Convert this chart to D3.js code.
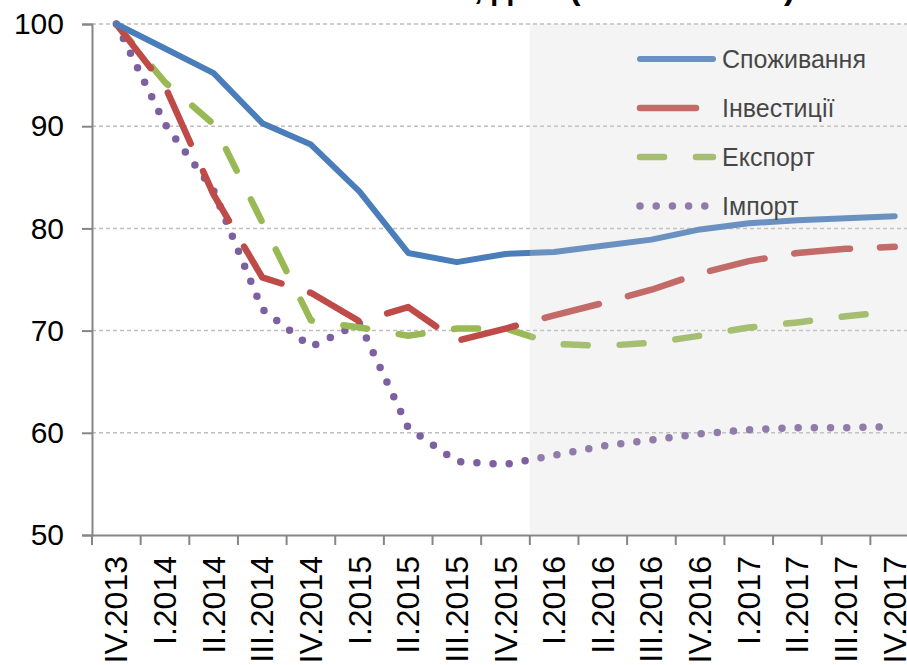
<!DOCTYPE html>
<html>
<head>
<meta charset="utf-8">
<script src="https://cdn.jsdelivr.net/npm/d3@7/dist/d3.min.js"></script>
<style>
  html, body { margin: 0; padding: 0; background: #fff; }
  svg { display: block; }
  text { font-family: "Liberation Sans", Arial, sans-serif; }
</style>
</head>
<body>
<svg id="chart" width="907" height="665"></svg>
<script>
const categories = ["IV.2013","I.2014","II.2014","III.2014","IV.2014","I.2015","II.2015","III.2015","IV.2015",
                    "I.2016","II.2016","III.2016","IV.2016","I.2017","II.2017","III.2017","IV.2017"];
const consumption = [100, 97.6, 95.2, 90.3, 88.2, 83.6, 77.6, 76.7, 77.5, 77.7, 78.3, 78.9, 79.9, 80.5, 80.8, 81.0, 81.2];
const investment  = [100, 93.9, 83.3, 75.2, 73.7, 70.9, 72.3, 69.0, 70.2, 71.5, 72.7, 74.0, 75.6, 76.8, 77.6, 78.0, 78.2];
const exportsData = [100, 94.3, 90.2, 80.6, 71.0, 70.3, 69.5, 70.2, 70.2, 68.7, 68.5, 68.8, 69.5, 70.3, 70.8, 71.4, 71.9];
const importsData = [100, 90.2, 83.7, 72.1, 68.4, 70.7, 60.5, 57.2, 56.9, 57.8, 58.7, 59.3, 59.9, 60.3, 60.5, 60.5, 60.6];
const seriesNames = ["Споживання", "Інвестиції", "Експорт", "Імпорт"];
const yTicks = [50, 60, 70, 80, 90, 100];
const forecastStart = "I.2016";
const titleText = "Компоненти ВВП, дані (IV.2013 = 100)";

(function () {
const svg = d3.select("#chart");
const pLeft = 92, pRight = 919, pTop = 24, pBottom = 535;

const x = d3.scaleBand().domain(categories).range([pLeft, pRight]).paddingInner(0).paddingOuter(0);
const y = d3.scaleLinear().domain([50, 100]).range([pBottom, pTop]);

// title (mostly cut off at top, as in the source image)
svg.append("text")
  .attr("x", 795).attr("y", -1)
  .attr("text-anchor", "end")
  .attr("font-size", 33).attr("font-weight", "bold")
  .attr("fill", "#000")
  .text(titleText);

// gridlines
svg.append("g").selectAll("line").data(yTicks.filter(d => d > 50)).join("line")
  .attr("x1", pLeft).attr("x2", 907)
  .attr("y1", d => y(d)).attr("y2", d => y(d))
  .attr("stroke", "#bfbfbf").attr("stroke-width", 1.5)
  .attr("stroke-dasharray", "4,3");

const styles = [
  { data: consumption, color: "#4a7ebb", dash: null, width: 6 },
  { data: investment,  color: "#be4b48", dash: "56,30", width: 6.5 },
  { data: exportsData, color: "#98b954", dash: "24,32", width: 6.5 },
  { data: importsData, color: "#7d60a0", dash: "0,16.2", width: 7.5 }
];

const line = d3.line()
  .x((d, i) => x(categories[i]) + x.bandwidth() / 2)
  .y(d => y(d));

const gLines = svg.append("g");
styles.slice().reverse().forEach(s => {
  gLines.append("path")
    .datum(s.data)
    .attr("d", line)
    .attr("fill", "none")
    .attr("stroke", s.color)
    .attr("stroke-width", s.width)
    .attr("stroke-linecap", "round")
    .attr("stroke-linejoin", "round")
    .attr("stroke-dasharray", s.dash);
});

// legend
const legendX1 = 640, legendX2 = 713, legendY0 = 59, legendStep = 49;
const gLeg = svg.append("g");
styles.forEach((s, i) => {
  const yy = legendY0 + i * legendStep;
  gLeg.append("line")
    .attr("x1", legendX1).attr("x2", legendX2)
    .attr("y1", yy).attr("y2", yy)
    .attr("stroke", s.color).attr("stroke-width", s.width)
    .attr("stroke-linecap", "round")
    .attr("stroke-dasharray", s.dash);
  gLeg.append("text")
    .attr("x", 722).attr("y", yy + 9)
    .attr("font-size", 25).attr("fill", "#1a1a1a")
    .text(seriesNames[i]);
});

// forecast shading overlay
svg.append("rect")
  .attr("x", x(forecastStart)).attr("y", pTop)
  .attr("width", 907 - x(forecastStart)).attr("height", pBottom - pTop - 1)
  .attr("fill", "#d0d0d0").attr("opacity", 0.24);

// y axis
const yAxis = svg.append("g")
  .attr("transform", `translate(${pLeft},0)`)
  .call(d3.axisLeft(y).tickValues(yTicks).tickSize(10).tickPadding(18).tickFormat(d3.format("d")));
yAxis.select(".domain").attr("stroke", "#868686").attr("stroke-width", 2);
yAxis.selectAll(".tick line").attr("stroke", "#868686").attr("stroke-width", 2);
yAxis.selectAll(".tick text").attr("font-size", 30).attr("fill", "#000")
  .attr("font-family", "Liberation Sans, Arial, sans-serif");

// x axis
const xAxis = svg.append("g")
  .attr("transform", `translate(0,${pBottom})`)
  .call(d3.axisBottom(x).tickSize(0).tickPadding(0));
xAxis.select(".domain").attr("stroke", "#868686").attr("stroke-width", 2);
xAxis.selectAll(".tick text")
  .attr("font-size", 32).attr("fill", "#000")
  .attr("font-family", "Liberation Sans, Arial, sans-serif")
  .attr("text-anchor", "end")
  .attr("dy", null)
  .attr("dominant-baseline", "central")
  .attr("transform", "translate(0,21) rotate(-90)")
  .attr("y", 0).attr("x", 0);

// boundary ticks
svg.append("g").selectAll("line").data(categories).join("line")
  .attr("x1", d => x(d)).attr("x2", d => x(d))
  .attr("y1", pBottom).attr("y2", pBottom + 10)
  .attr("stroke", "#868686").attr("stroke-width", 2);
})();
</script>
</body>
</html>
